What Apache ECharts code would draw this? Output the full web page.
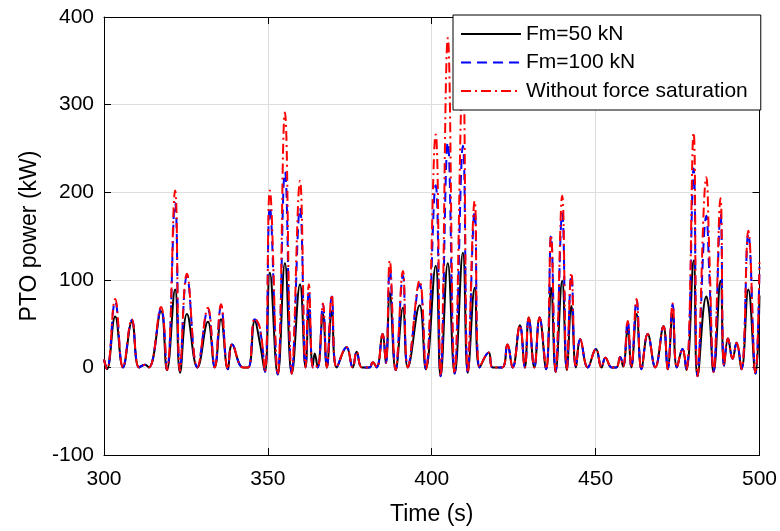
<!DOCTYPE html>
<html>
<head>
<meta charset="utf-8">
<script src="https://cdn.jsdelivr.net/npm/echarts@6/dist/echarts.min.js"></script>
<style>html,body{margin:0;padding:0;background:#fff}#c{width:780px;height:531px}</style>
</head>
<body>
<div id="c"></div>
<script>
const times = [300.0,300.9,303.4,305.8,308.5,310.7,312.5,313.7,317.4,319.2,321.7,323.2,325.3,328.5,331.7,333.8,335.7,337.8,339.1,342.4,344.0,346.0,347.6,349.1,350.6,353.0,355.2,357.3,359.8,361.5,362.5,363.7,364.3,365.2,366.8,368.0,369.5,371.0,374.0,375.9,377.1,378.7,381.0,382.0,383.2,385.0,386.0,387.2,389.0,391.2,392.7,396.3,398.2,401.2,402.7,404.9,407.0,409.5,411.0,413.1,414.6,417.4,418.6,421.5,423.1,424.7,426.9,428.4,429.6,431.3,432.9,434.9,436.4,437.8,439.8,441.2,442.6,444.0,445.3,447.6,450.1,451.8,453.0,454.9,456.3,457.5,458.4,459.8,460.9,462.5,464.0,465.9,468.2,470.7,472.0,473.5,474.8,476.5,477.7,479.9,481.1,483.8,484.7,486.0,488.1,489.2,490.4,491.8,493.0,494.5,496.6,498.8,500.0];
const noSat = [9,-2,78,0,55,0,3,0,69,-3,202,-4,107,0,68,0,72,-2,26,0,0,56,45,-5,202,-8,291,-7,213,0,95,0,3,0,73,0,83,0,23,0,18,0,0,6,0,38,5,122,-3,110,0,99,-2,266,-10,376,-7,340,-6,190,0,17,0,0,26,0,48,0,57,0,57,-2,151,-5,196,-3,108,0,32,0,21,0,11,0,0,12,1,53,0,78,-2,38,0,47,-2,73,0,21,-3,268,-10,217,130,-5,193,2,33,10,28,-2,156,-7,120];
const fm100 = [9,-2,75,0,54,0,3,0,67,-3,188,-4,104,0,66,0,70,-2,26,0,0,55,43,-5,183,-8,223,-7,182,0,88,0,3,0,72,0,81,0,23,0,18,0,0,6,0,38,5,112,-3,105,0,95,-2,208,-10,257,-7,253,-6,178,0,17,0,0,26,0,48,0,57,0,57,-2,150,-5,176,-3,106,0,32,0,21,0,11,0,0,12,1,53,0,77,-2,38,0,47,-2,72,0,21,-3,227,-10,173,105,-5,175,2,33,10,28,-2,152,-7,115];
const fm50 = [9,-2,58,0,52,0,3,0,64,-3,89,-6,61,0,52,0,55,-2,26,0,0,53,27,-5,108,-8,119,-7,95,0,66,2,16,0,61,0,64,0,23,0,18,0,0,6,0,38,5,85,-3,68,0,71,-2,116,-10,119,-7,131,-6,91,0,17,0,0,26,0,48,0,57,0,57,-2,91,-5,99,-3,70,0,32,0,21,0,11,0,0,12,1,45,0,61,-2,38,0,47,-2,61,0,21,-3,122,-10,81,62,-5,99,2,33,10,28,-2,89,-7,82];
const seriesNames = ['Fm=50 kN','Fm=100 kN','Without force saturation'];
const xTicks = [300,350,400,450,500];
const yTicks = [-100,0,100,200,300,400];

const FONT = 'Liberation Sans, Arial, Helvetica, sans-serif';
const pair = arr => times.map((t,i)=>[t,arr[i]]);
const chart = echarts.init(document.getElementById('c'), null, {renderer:'canvas'});
const gridColor = '#dedede';
const axisCommon = {
  axisLine:{show:true,onZero:false,lineStyle:{color:'#000',width:1}},
  axisTick:{show:true,inside:true,length:7,lineStyle:{color:'#000',width:1}},
};
chart.setOption({
  animation:false,
  backgroundColor:'#fff',
  graphic:[{type:'text',left:254,top:-27,style:{text:'(c)',font:'23px '+FONT,fill:'#000'}}],
  grid:{left:104,right:20,top:17,bottom:76,containLabel:false},
  legend:{
    data:seriesNames,
    orient:'vertical',
    left:453, top:15,
    padding:[8.5,13,8.5,7],
    itemWidth:60, itemHeight:14, itemGap:7.5,
    itemStyle:{opacity:0},
    backgroundColor:'#fff', borderColor:'#000', borderWidth:1, borderRadius:0,
    textStyle:{fontFamily:FONT,fontSize:21,color:'#000',lineHeight:21},
    z:10
  },
  xAxis:[
    Object.assign({type:'value',min:xTicks[0],max:xTicks[xTicks.length-1],interval:50,position:'bottom',
      name:'Time (s)',nameLocation:'middle',nameGap:48,
      nameTextStyle:{fontFamily:FONT,fontSize:23,color:'#000'},
      axisLabel:{fontFamily:FONT,fontSize:21,color:'#000',margin:14},
      splitLine:{show:true,lineStyle:{color:gridColor,width:1}}},axisCommon),
    Object.assign({type:'value',min:xTicks[0],max:xTicks[xTicks.length-1],interval:50,position:'top',
      axisLabel:{show:false},splitLine:{show:false}},axisCommon)
  ],
  yAxis:[
    Object.assign({type:'value',min:yTicks[0],max:yTicks[yTicks.length-1],interval:100,position:'left',
      name:'PTO power (kW)',nameLocation:'middle',nameGap:60,
      nameTextStyle:{fontFamily:FONT,fontSize:23,color:'#000'},
      axisLabel:{fontFamily:FONT,fontSize:21,color:'#000',margin:10},
      splitLine:{show:true,lineStyle:{color:gridColor,width:1}}},axisCommon),
    Object.assign({type:'value',min:yTicks[0],max:yTicks[yTicks.length-1],interval:100,position:'right',
      axisLabel:{show:false},splitLine:{show:false}},axisCommon)
  ],
  series:[
    {name:seriesNames[0],type:'line',data:pair(fm50),smooth:0.45,symbol:'none',
      lineStyle:{color:'#000',width:2,type:'solid'},itemStyle:{color:'#000'}},
    {name:seriesNames[1],type:'line',data:pair(fm100),smooth:0.45,symbol:'none',
      lineStyle:{color:'#0000ff',width:2,type:[10,6]},itemStyle:{color:'#0000ff'}},
    {name:seriesNames[2],type:'line',data:pair(noSat),smooth:0.45,symbol:'none',
      lineStyle:{color:'#ff0000',width:2,type:[10,4,2,4]},itemStyle:{color:'#ff0000'}}
  ]
});
</script>
</body>
</html>
